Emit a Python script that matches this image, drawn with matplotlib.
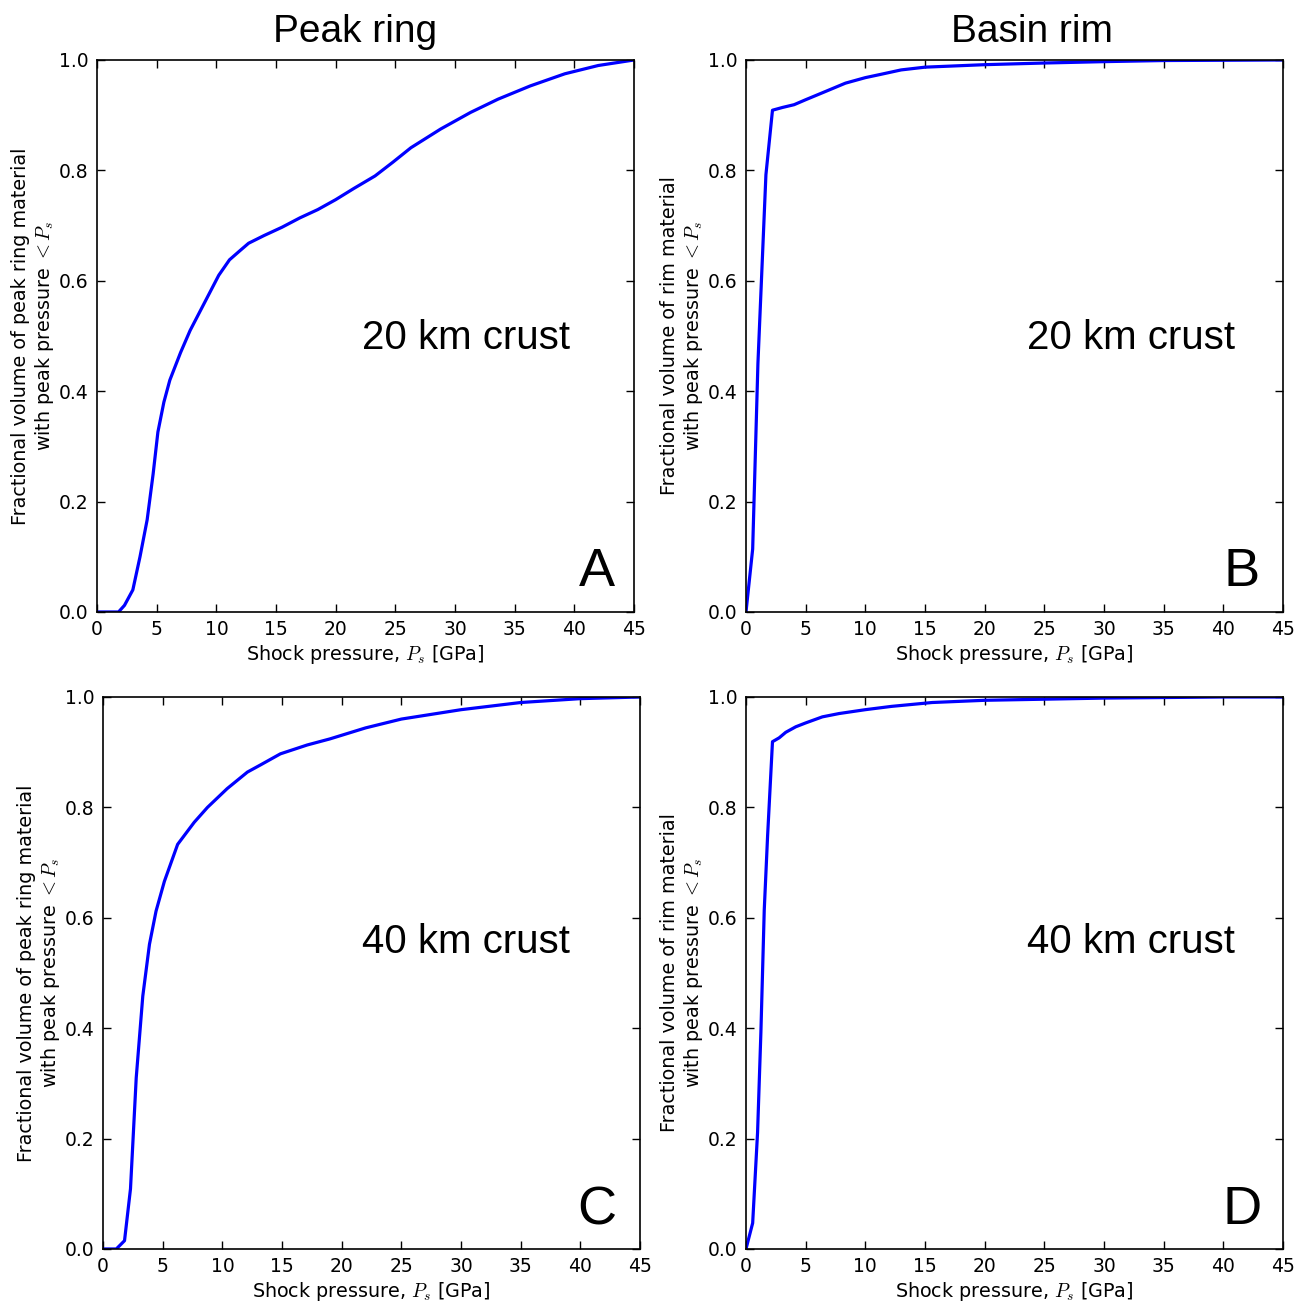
import matplotlib
matplotlib.use("Agg")
import matplotlib.pyplot as plt

# valores (presión de choque en GPa, fracción de volumen)
p_a = [0, 1.8, 2.3, 3.0, 3.6, 4.2, 4.7, 5.1, 5.6, 6.1, 7.0, 7.8, 9.0, 10.2, 11.1, 12.0, 12.7, 14.0, 15.5, 17.0, 18.5, 20.0, 21.5, 23.3, 24.8, 26.3, 28.8, 31.3, 33.6, 36.3, 39.2, 42.0, 45]
v_a = [0, 0, 0.012, 0.04, 0.10, 0.167, 0.25, 0.326, 0.38, 0.42, 0.47, 0.51, 0.56, 0.61, 0.638, 0.655, 0.668, 0.682, 0.697, 0.714, 0.729, 0.747, 0.767, 0.79, 0.815, 0.841, 0.875, 0.905, 0.929, 0.953, 0.975, 0.99, 1.0]

p_b = [0, 0.56, 1.0, 1.67, 2.22, 3.06, 4.03, 5.0, 6.67, 8.33, 10.0, 11.3, 13.0, 15.0, 20.0, 25.0, 30.0, 35.0, 40.0, 45]
v_b = [0, 0.114, 0.45, 0.792, 0.909, 0.914, 0.919, 0.928, 0.943, 0.958, 0.968, 0.974, 0.982, 0.987, 0.9915, 0.9945, 0.997, 0.999, 0.9995, 1.0]

p_c = [0, 1.11, 1.8, 2.3, 2.78, 3.33, 3.89, 4.44, 5.14, 6.25, 7.64, 8.75, 10.4, 12.1, 13.2, 14.86, 17.1, 19.0, 22.0, 25.0, 30.0, 35.0, 40.0, 45]
v_c = [0, 0, 0.015, 0.109, 0.31, 0.458, 0.552, 0.612, 0.666, 0.733, 0.773, 0.80, 0.834, 0.864, 0.877, 0.897, 0.913, 0.924, 0.944, 0.96, 0.977, 0.99, 0.997, 1.0]

p_d = [0, 0.56, 0.97, 1.25, 1.53, 1.81, 2.22, 2.78, 3.33, 4.17, 5.0, 6.4, 7.8, 10.0, 12.2, 15.6, 20.0, 25.0, 30.0, 35.0, 40.0, 45]
v_d = [0, 0.047, 0.211, 0.393, 0.614, 0.748, 0.919, 0.926, 0.936, 0.946, 0.953, 0.964, 0.97, 0.977, 0.983, 0.99, 0.994, 0.996, 0.998, 0.999, 1.0, 1.0]

titulos = ["Peak ring", "Basin rim"]
corteza = ["20 km crust", "20 km crust", "40 km crust", "40 km crust"]
letras = ["A", "B", "C", "D"]
ylab_pico = "Fractional volume of peak ring material\nwith peak pressure $<P_s$"
ylab_borde = "Fractional volume of rim material\nwith peak pressure $<P_s$"
xlab = "Shock pressure, $P_s$ [GPa]"

plt.rcParams['mathtext.fontset'] = 'cm'
plt.rcParams['font.family'] = 'DejaVu Sans'

fig = plt.figure(figsize=(13.06, 13.04), dpi=100)

# posiciones de los ejes [izq, abajo, ancho, alto]
posiciones = [
    [0.0743, 0.5307, 0.4112, 0.4233],
    [0.5712, 0.5307, 0.4112, 0.4233],
    [0.0789, 0.0422, 0.4112, 0.4233],
    [0.5712, 0.0422, 0.4112, 0.4233],
]
datos = [(p_a, v_a), (p_b, v_b), (p_c, v_c), (p_d, v_d)]
ylabs = [ylab_pico, ylab_borde, ylab_pico, ylab_borde]
pos_texto = [(0.687, 0.496), (0.717, 0.496), (0.676, 0.556), (0.717, 0.556)]
pos_letra = [(0.931, 0.072), (0.922, 0.072), (0.92, 0.07), (0.924, 0.07)]

for i in range(4):
    ax = fig.add_axes(posiciones[i])
    x, y = datos[i]
    ax.plot(x, y, color='#0000ff', linewidth=2.3)
    ax.set_xlim(0, 45)
    ax.set_ylim(0, 1.0)
    ax.set_xticks(range(0, 46, 5))
    ax.set_yticks([0, 0.2, 0.4, 0.6, 0.8, 1.0])
    ax.set_yticklabels(['0.0', '0.2', '0.4', '0.6', '0.8', '1.0'])
    ax.tick_params(direction='in', top=True, right=True, length=6, width=1,
                   labelsize=13.5, pad=6)
    for s in ax.spines.values():
        s.set_linewidth(1.2)
    ax.set_xlabel(xlab, fontsize=13.8, labelpad=3)
    ax.set_ylabel(ylabs[i], fontsize=13.8, labelpad=2)
    ax.text(pos_texto[i][0], pos_texto[i][1], corteza[i], transform=ax.transAxes,
            ha='center', va='center', fontsize=29, family='Liberation Sans')
    ax.text(pos_letra[i][0], pos_letra[i][1], letras[i], transform=ax.transAxes,
            ha='center', va='center', fontsize=39, family='Liberation Sans')

# títulos de columna
fig.text(355 / 1306, 1 - 32 / 1304, titulos[0], ha='center', va='center',
         fontsize=28, family='Liberation Sans')
fig.text(1032 / 1306, 1 - 32 / 1304, titulos[1], ha='center', va='center',
         fontsize=28, family='Liberation Sans')

fig.savefig("out.png", dpi=100, facecolor='white')
